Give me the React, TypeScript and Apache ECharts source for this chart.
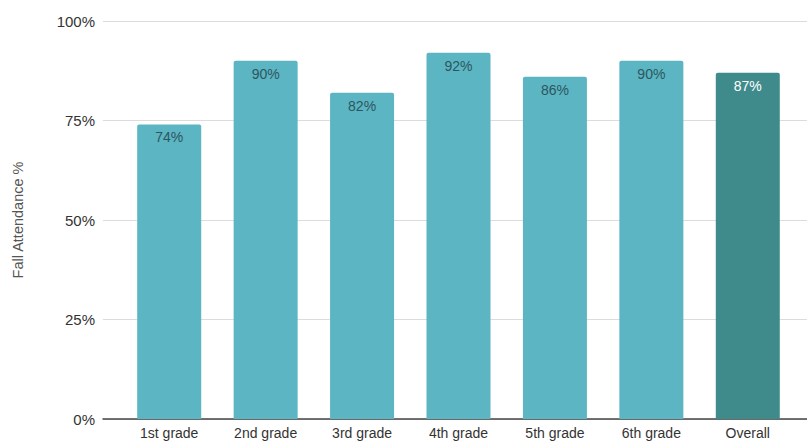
import React, { useEffect, useRef } from "react";
import * as echarts from "echarts";

const categories = ["1st grade", "2nd grade", "3rd grade", "4th grade", "5th grade", "6th grade", "Overall"];
const attendance = [74, 90, 82, 92, 86, 90, 87];
const yTicks = [0, 25, 50, 75, 100];

export default function App() {
  const ref = useRef<HTMLDivElement>(null);
  useEffect(() => {
    document.body.style.margin = "0";
    const chart = echarts.init(ref.current!, null, { renderer: "svg" });
    const font = "Liberation Sans, Arial, sans-serif";
    const data = attendance.map((v, i) => {
      const overall = categories[i] === "Overall";
      return {
        value: v,
        itemStyle: { color: overall ? "#3f8b8b" : "#5cb5c2" },
        label: { color: overall ? "#ffffff" : "#2d5560" },
      };
    });
    chart.setOption({
      animation: false,
      textStyle: { fontFamily: font },
      grid: [
        { left: 103, right: 0, top: 21, bottom: 23 },
        { left: 121, right: 11, top: 21, bottom: 23 },
      ],
      xAxis: [
        {
          gridIndex: 0,
          type: "category",
          data: categories,
          axisLine: { show: true, lineStyle: { color: "#444", width: 1.5 } },
          axisTick: { show: false },
          axisLabel: { show: false },
        },
        {
          gridIndex: 1,
          type: "category",
          data: categories,
          axisLine: { show: false },
          axisTick: { show: false },
          axisLabel: { color: "#333", fontSize: 14, margin: 7, lineHeight: 14, fontFamily: font },
        },
      ],
      yAxis: [
        {
          gridIndex: 0,
          type: "value",
          min: yTicks[0],
          max: yTicks[yTicks.length - 1],
          interval: 25,
          name: "Fall Attendance %",
          nameLocation: "middle",
          nameGap: 78,
          nameTextStyle: { color: "#555", fontSize: 14.5, fontFamily: font },
          axisLine: { show: false },
          axisTick: { show: false },
          axisLabel: { formatter: "{value}%", color: "#333", fontSize: 15, margin: 8, fontFamily: font },
          splitLine: { lineStyle: { color: "#dcdcdc" } },
        },
        {
          gridIndex: 1,
          type: "value",
          min: 0,
          max: 100,
          interval: 25,
          show: false,
          splitLine: { show: false },
        },
      ],
      series: [
        {
          type: "bar",
          xAxisIndex: 1,
          yAxisIndex: 1,
          barWidth: 64,
          data,
          itemStyle: { borderRadius: [2, 2, 0, 0] },
          label: {
            show: true,
            position: "insideTop",
            distance: 6,
            fontSize: 14,
            formatter: "{c}%",
            fontFamily: font,
          },
        },
      ],
    });
    return () => chart.dispose();
  }, []);
  return <div ref={ref} style={{ width: 807, height: 442 }} />;
}
